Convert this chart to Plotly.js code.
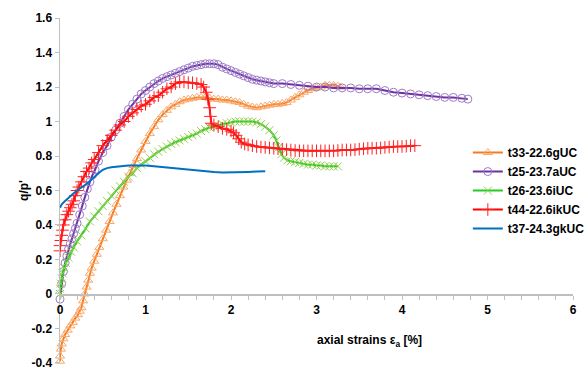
<!DOCTYPE html>
<html>
<head>
<meta charset="utf-8">
<script src="https://cdn.plot.ly/plotly-3.0.1.min.js"></script>
<style>html,body{margin:0;padding:0;background:#fff;}#chart{width:586px;height:369px;}</style>
</head>
<body>
<div id="chart"></div>
<script>
// Series names
const seriesNames = ['t33-22.6gUC', 't25-23.7aUC', 't26-23.6iUC', 't44-22.6ikUC', 't37-24.3gkUC'];

// t33-22.6gUC
const t33X = [0.00,0.00,0.01,0.02,0.04,0.06,0.09,0.12,0.15,0.18,0.21,0.23,0.25,0.27,0.29,0.31,0.33,0.35,0.37,0.40,0.43,0.46,0.50,0.54,0.58,0.62,0.66,0.70,0.74,0.78,0.82,0.86,0.90,0.95,1.00,1.05,1.10,1.15,1.20,1.25,1.30,1.35,1.40,1.45,1.50,1.55,1.60,1.65,1.70,1.75,1.80,1.85,1.90,1.95,2.00,2.05,2.10,2.15,2.20,2.25,2.30,2.35,2.40,2.45,2.50,2.55,2.60,2.65,2.70,2.75,2.80,2.85,2.90,2.95,3.00,3.05,3.10,3.15,3.20,3.25,3.28];
const t33Y = [-0.39,-0.36,-0.32,-0.29,-0.26,-0.235,-0.21,-0.185,-0.165,-0.14,-0.12,-0.10,-0.08,-0.04,0.00,0.04,0.08,0.12,0.15,0.19,0.23,0.27,0.32,0.37,0.42,0.47,0.52,0.57,0.62,0.66,0.70,0.745,0.785,0.835,0.885,0.93,0.97,1.01,1.04,1.065,1.085,1.10,1.115,1.125,1.13,1.135,1.14,1.14,1.14,1.135,1.13,1.13,1.125,1.125,1.12,1.115,1.11,1.10,1.09,1.085,1.08,1.085,1.09,1.095,1.10,1.10,1.105,1.11,1.125,1.14,1.155,1.17,1.18,1.19,1.195,1.20,1.21,1.21,1.21,1.205,1.20];

// t25-23.7aUC
const t25X = [0.00,0.02,0.04,0.06,0.08,0.10,0.12,0.14,0.16,0.18,0.20,0.23,0.26,0.29,0.32,0.35,0.38,0.41,0.45,0.50,0.55,0.60,0.65,0.70,0.75,0.80,0.85,0.90,0.95,1.00,1.05,1.10,1.15,1.20,1.25,1.30,1.35,1.40,1.45,1.50,1.55,1.60,1.65,1.70,1.75,1.80,1.85,1.90,1.95,2.00,2.05,2.10,2.15,2.20,2.25,2.30,2.35,2.40,2.45,2.50,2.60,2.70,2.80,2.90,3.00,3.10,3.20,3.30,3.40,3.50,3.60,3.70,3.80,3.90,4.00,4.10,4.20,4.30,4.40,4.50,4.60,4.70,4.77];
const t25Y = [-0.03,0.06,0.13,0.18,0.22,0.26,0.29,0.32,0.35,0.38,0.41,0.46,0.51,0.56,0.61,0.65,0.69,0.72,0.77,0.82,0.86,0.91,0.95,0.99,1.03,1.07,1.10,1.13,1.16,1.18,1.20,1.22,1.235,1.25,1.26,1.27,1.28,1.29,1.30,1.31,1.32,1.325,1.33,1.335,1.335,1.335,1.33,1.315,1.305,1.295,1.285,1.275,1.265,1.255,1.245,1.24,1.235,1.23,1.225,1.22,1.22,1.215,1.21,1.205,1.20,1.20,1.195,1.195,1.195,1.19,1.19,1.19,1.18,1.17,1.165,1.16,1.155,1.15,1.145,1.14,1.14,1.135,1.13];

// t26-23.6iUC
const t26X = [0.00,0.00,0.01,0.02,0.03,0.05,0.07,0.10,0.13,0.16,0.20,0.25,0.30,0.35,0.40,0.45,0.50,0.55,0.60,0.65,0.70,0.75,0.80,0.85,0.90,0.95,1.00,1.05,1.10,1.15,1.20,1.25,1.30,1.35,1.40,1.45,1.50,1.55,1.60,1.65,1.70,1.75,1.80,1.85,1.90,1.95,2.00,2.05,2.10,2.15,2.20,2.25,2.30,2.35,2.40,2.45,2.50,2.53,2.56,2.59,2.62,2.66,2.70,2.75,2.80,2.85,2.90,2.95,3.00,3.05,3.10,3.15,3.20,3.25];
const t26Y = [0.00,0.03,0.06,0.09,0.12,0.15,0.18,0.21,0.245,0.27,0.305,0.34,0.38,0.42,0.45,0.48,0.51,0.54,0.57,0.60,0.625,0.65,0.68,0.70,0.73,0.75,0.77,0.79,0.81,0.825,0.84,0.855,0.87,0.88,0.89,0.90,0.91,0.92,0.93,0.945,0.955,0.965,0.97,0.975,0.985,0.99,0.995,1.00,1.00,1.00,1.00,1.00,0.995,0.985,0.97,0.95,0.92,0.89,0.85,0.81,0.79,0.775,0.77,0.765,0.76,0.755,0.75,0.75,0.745,0.745,0.74,0.74,0.74,0.74];

// t44-22.6ikUC
const t44X = [0.00,0.00,0.01,0.02,0.03,0.04,0.06,0.08,0.10,0.12,0.14,0.16,0.18,0.20,0.22,0.25,0.28,0.31,0.34,0.37,0.40,0.45,0.50,0.55,0.60,0.65,0.70,0.75,0.80,0.85,0.90,0.95,1.00,1.05,1.10,1.15,1.20,1.25,1.30,1.35,1.40,1.45,1.50,1.55,1.60,1.65,1.68,1.71,1.73,1.75,1.76,1.77,1.80,1.85,1.90,1.95,2.00,2.03,2.06,2.09,2.12,2.16,2.20,2.25,2.30,2.35,2.40,2.45,2.50,2.55,2.60,2.65,2.70,2.75,2.80,2.85,2.90,2.95,3.00,3.05,3.10,3.15,3.20,3.25,3.30,3.35,3.40,3.45,3.50,3.55,3.60,3.65,3.70,3.75,3.80,3.85,3.90,3.95,4.00,4.05,4.10,4.15];
const t44Y = [0.25,0.28,0.31,0.34,0.37,0.40,0.43,0.46,0.48,0.50,0.52,0.54,0.57,0.60,0.62,0.65,0.68,0.71,0.73,0.76,0.78,0.82,0.86,0.89,0.92,0.95,0.98,1.00,1.03,1.05,1.07,1.09,1.10,1.12,1.14,1.15,1.17,1.19,1.20,1.22,1.23,1.23,1.225,1.225,1.22,1.215,1.20,1.17,1.13,1.08,1.03,0.99,0.98,0.97,0.96,0.955,0.945,0.935,0.92,0.90,0.88,0.87,0.865,0.86,0.855,0.852,0.85,0.847,0.845,0.842,0.84,0.837,0.835,0.832,0.83,0.83,0.83,0.83,0.83,0.83,0.83,0.83,0.83,0.832,0.835,0.835,0.835,0.837,0.84,0.842,0.845,0.845,0.845,0.847,0.85,0.852,0.855,0.855,0.855,0.857,0.86,0.86];

// t37-24.3gkUC
const t37X = [0.00,0.02,0.05,0.10,0.15,0.20,0.25,0.30,0.35,0.40,0.45,0.50,0.55,0.60,0.70,0.80,0.90,1.00,1.10,1.20,1.30,1.40,1.50,1.60,1.70,1.80,1.90,2.00,2.10,2.20,2.30,2.40];
const t37Y = [0.50,0.52,0.535,0.56,0.58,0.60,0.615,0.635,0.655,0.68,0.70,0.72,0.73,0.735,0.74,0.745,0.745,0.745,0.74,0.735,0.73,0.725,0.72,0.715,0.71,0.707,0.705,0.705,0.707,0.708,0.71,0.712];

// Axis ticks
const yTickVals = [-0.4,-0.2,0,0.2,0.4,0.6,0.8,1,1.2,1.4,1.6];
const yTickText = ['-0.4','-0.2','0','0.2','0.4','0.6','0.8','1','1.2','1.4','1.6'];
const xTickVals = [0,1,2,3,4,5,6];
const xTickText = ['0','1','2','3','4','5','6'];

const FONT = 'Liberation Sans, Arial, sans-serif';

const traces = [
  {name: seriesNames[0], x: t33X, y: t33Y, mode: 'lines+markers', cliponaxis: false,
   line: {color: '#F47B20', width: 2},
   marker: {symbol: 'triangle-up-open', size: 8, color: '#F9A86A', line: {width: 1}}},
  {name: seriesNames[1], x: t25X, y: t25Y, mode: 'lines+markers', cliponaxis: false,
   line: {color: '#7030A0', width: 2},
   marker: {symbol: 'circle-open', size: 8, color: '#9C7CC9', line: {width: 1}}},
  {name: seriesNames[2], x: t26X, y: t26Y, mode: 'lines+markers', cliponaxis: false,
   line: {color: '#22CC22', width: 2},
   marker: {symbol: 'x-thin-open', size: 8, color: '#92D050', line: {width: 1}}},
  {name: seriesNames[3], x: t44X, y: t44Y, mode: 'lines+markers', cliponaxis: false,
   line: {color: '#FF0000', width: 2},
   marker: {symbol: 'cross-thin-open', size: 9, color: '#FF2020', line: {width: 1}}},
  {name: seriesNames[4], x: t37X, y: t37Y, mode: 'lines', cliponaxis: false,
   line: {color: '#0070C0', width: 2}}
];

const layout = {
  width: 586, height: 369,
  margin: {l: 60, r: 13, t: 18, b: 6, autoexpand: false},
  paper_bgcolor: '#fff', plot_bgcolor: '#fff',
  font: {family: FONT, size: 12, color: '#000', weight: 700},
  showlegend: true,
  legend: {x: 0.795, xanchor: 'left', y: 0.652, yanchor: 'top', bgcolor: 'rgba(0,0,0,0)',
           font: {family: FONT, size: 12, color: '#000', weight: 700}},
  xaxis: {range: [0, 6], anchor: 'free', position: 0.2,
          showline: true, linecolor: '#BFBFBF', linewidth: 1.5,
          showgrid: false, zeroline: false, ticklabeloverflow: 'allow',
          tickvals: xTickVals, ticktext: xTickText,
          ticks: 'outside', ticklen: 4, tickcolor: '#BFBFBF', tickwidth: 1,
          minor: {dtick: 0.2, ticks: 'outside', ticklen: 4, tickcolor: '#BFBFBF', showgrid: false},
          tickfont: {family: FONT, size: 12, color: '#000', weight: 700}},
  yaxis: {range: [-0.4005, 1.6005],
          showline: true, linecolor: '#BFBFBF', linewidth: 1.5,
          showgrid: false, zeroline: false, ticklabeloverflow: 'allow',
          tickvals: yTickVals, ticktext: yTickText,
          ticks: 'outside', ticklen: 4, tickcolor: '#BFBFBF', tickwidth: 1,
          tickfont: {family: FONT, size: 12, color: '#000', weight: 700},
          title: {text: "q/p'", standoff: 0, font: {family: FONT, size: 12, color: '#000', weight: 700}}},
  annotations: [{
    text: 'axial strains ε<sub>a</sub> [%]', xref: 'paper', yref: 'paper',
    x: 0.604, y: 0.064, xanchor: 'center', yanchor: 'middle', showarrow: false,
    font: {family: FONT, size: 12, color: '#000', weight: 700}
  }]
};

Plotly.newPlot('chart', traces, layout, {staticPlot: true, displayModeBar: false});
</script>
</body>
</html>
